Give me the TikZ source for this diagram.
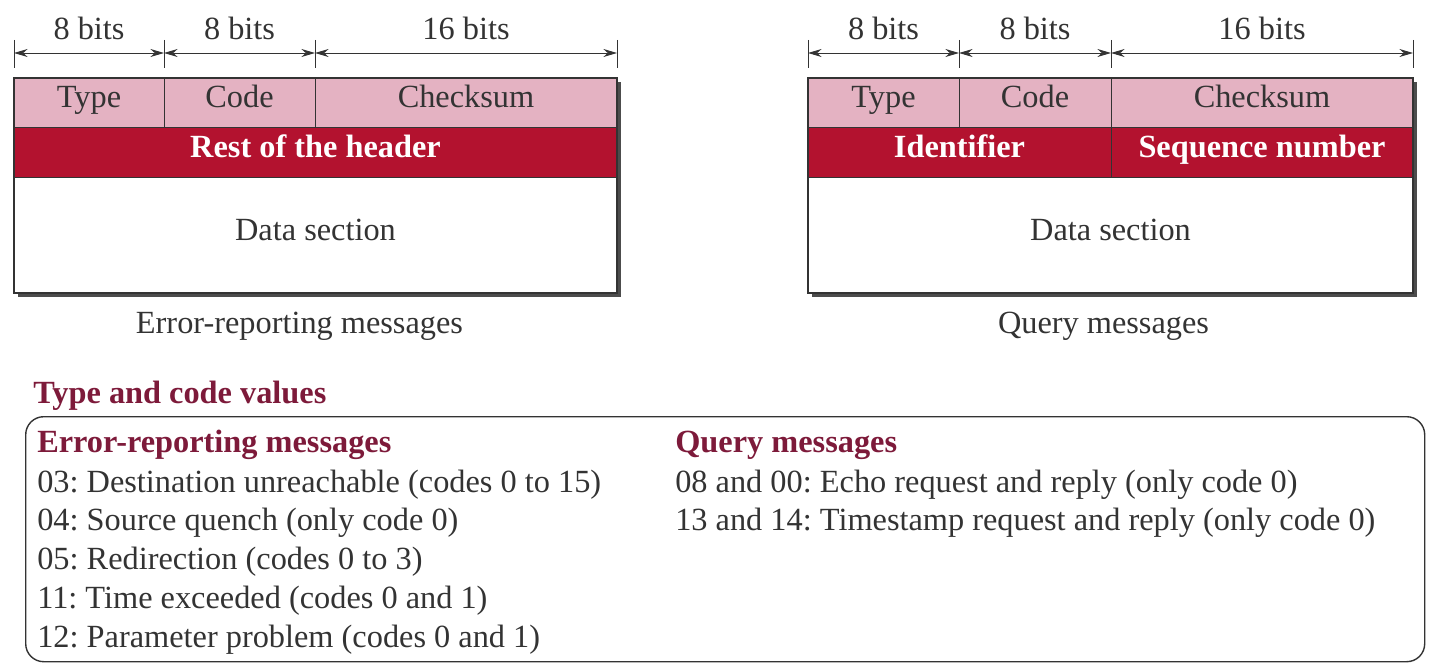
\documentclass[tikz,border=0pt]{standalone}
\usepackage{fontspec}
\setmainfont{Liberation Serif}
\usetikzlibrary{arrows.meta,positioning,calc}
\definecolor{fieldpink}{HTML}{E4B2C2}
\definecolor{fieldred}{HTML}{B3122F}
\definecolor{headmaroon}{HTML}{7D1A3A}
\definecolor{inkgray}{HTML}{333333}
\newcommand{\px}{0.25mm}
\frenchspacing

\begin{document}
\begin{tikzpicture}[x=0.25mm,y=-0.25mm,font=\fontsize{23}{27}\selectfont,
   cell/.style={draw=inkgray,line width=0.5pt,fill=fieldpink,minimum height=49*\px,
                inner sep=0pt,outer sep=0pt,anchor=north west,text=inkgray,
                text height=0.95em,text depth=0.2em},
   hdr/.style={cell,fill=fieldred,minimum height=50*\px,text=white,
               font=\fontsize{23}{27}\selectfont\bfseries},
   datasec/.style={cell,fill=white,minimum height=116*\px},
   bits/.style={{Stealth[length=3.4mm,width=2mm]}-{Stealth[length=3.4mm,width=2mm]},
                line width=0.7pt,draw=inkgray},
   tickline/.style={line width=0.7pt,draw=inkgray},
   txt/.style={inner sep=0pt,anchor=base west,text=inkgray},
   ttl/.style={txt,text=headmaroon,font=\fontsize{23}{27}\selectfont\bfseries}]
  \useasboundingbox (0,0) rectangle (1442,671);

  % error-reporting packet
  \fill[black!70] (18,82) rectangle (621,297);
  \node[cell,minimum width=150*\px] (typeL) at (14,78) {Type};
  \node[cell,minimum width=151*\px] (codeL) at (typeL.north east) {Code};
  \node[cell,minimum width=302*\px] (sumL) at (codeL.north east) {Checksum};
  \node[hdr,minimum width=603*\px] (restL) at (typeL.south west) {Rest of the header};
  \node[datasec,minimum width=603*\px] (dataL) at (restL.south west) {Data section};
  \draw[line width=0.9pt,draw=inkgray] (typeL.north west) rectangle (dataL.south east);
  \foreach \n in {typeL.north west,typeL.north east,codeL.north east,sumL.north east}
    \draw[tickline] ($(\n)+(0,-38)$) -- ($(\n)+(0,-10)$);
  \draw[bits] ($(typeL.north west)+(0,-25)$) -- ($(typeL.north east)+(0,-25)$);
  \draw[bits] ($(codeL.north west)+(0,-25)$) -- ($(codeL.north east)+(0,-25)$);
  \draw[bits] ($(sumL.north west)+(0,-25)$) -- ($(sumL.north east)+(0,-25)$);
  \node[txt,anchor=base] (bitsL1) at ($(typeL.north)+(0,-38)$) {8 bits};
  \node[txt,anchor=base] (bitsL2) at ($(codeL.north)+(0,-38)$) {8 bits};
  \node[txt,anchor=base] (bitsL3) at ($(sumL.north)+(0,-38)$) {16 bits};
  \node[txt,anchor=base] (capL) at ($(dataL.south)+(-16,40)$) {Error-reporting messages};

  % query packet
  \fill[black!70] (812,82) rectangle (1417,297);
  \node[cell,minimum width=151*\px] (typeR) at (808,78) {Type};
  \node[cell,minimum width=152*\px] (codeR) at (typeR.north east) {Code};
  \node[cell,minimum width=302*\px] (sumR) at (codeR.north east) {Checksum};
  \node[hdr,minimum width=303*\px] (identR) at (typeR.south west) {Identifier};
  \node[hdr,minimum width=302*\px] (seqR) at (identR.north east) {Sequence number};
  \node[datasec,minimum width=605*\px] (dataR) at (identR.south west) {Data section};
  \draw[line width=0.9pt,draw=inkgray] (typeR.north west) rectangle (dataR.south east);
  \foreach \n in {typeR.north west,typeR.north east,codeR.north east,sumR.north east}
    \draw[tickline] ($(\n)+(0,-38)$) -- ($(\n)+(0,-10)$);
  \draw[bits] ($(typeR.north west)+(0,-25)$) -- ($(typeR.north east)+(0,-25)$);
  \draw[bits] ($(codeR.north west)+(0,-25)$) -- ($(codeR.north east)+(0,-25)$);
  \draw[bits] ($(sumR.north west)+(0,-25)$) -- ($(sumR.north east)+(0,-25)$);
  \node[txt,anchor=base] (bitsR1) at ($(typeR.north)+(0,-38)$) {8 bits};
  \node[txt,anchor=base] (bitsR2) at ($(codeR.north)+(0,-38)$) {8 bits};
  \node[txt,anchor=base] (bitsR3) at ($(sumR.north)+(0,-38)$) {16 bits};
  \node[txt,anchor=base] (capR) at ($(dataR.south)+(-7,40)$) {Query messages};

  % type and code values
  \node[ttl] (tcv) at (33,403) {Type and code values};
  \node[draw=inkgray,line width=1pt,rounded corners=4.5mm,inner sep=0pt,
        minimum width=1399*\px,minimum height=245*\px,anchor=north west] (valbox) at (25,416) {};
  \node[ttl] (errhd) at (37,452) {Error-reporting messages};
  \node[txt] (e1) at (37,492) {03: Destination unreachable (codes 0 to 15)};
  \node[txt] (e2) at (37,530) {04: Source quench (only code 0)};
  \node[txt] (e3) at (37,569) {05: Redirection (codes 0 to 3)};
  \node[txt] (e4) at (37,608) {11: Time exceeded (codes 0 and 1)};
  \node[txt] (e5) at (37,647) {12: Parameter problem (codes 0 and 1)};
  \node[ttl] (qryhd) at (675,452) {Query messages};
  \node[txt] (q1) at (675,492) {08 and 00: Echo request and reply (only code 0)};
  \node[txt] (q2) at (675,530) {13 and 14: Timestamp request and reply (only code 0)};
\end{tikzpicture}
\end{document}
